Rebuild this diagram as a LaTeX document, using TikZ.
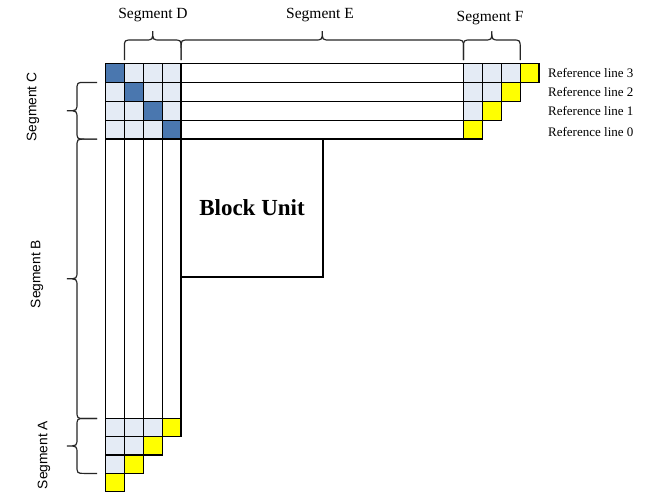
\documentclass[tikz,border=0pt]{standalone}
\usepackage{fontspec}
\setmainfont{Liberation Serif}
\newfontfamily\sidefont{Liberation Sans}
\definecolor{cellblue}{HTML}{4A77AF}
\definecolor{cellpale}{HTML}{E4EBF5}
\definecolor{cellyellow}{HTML}{FFFF00}
\tikzset{
  gridpen/.style={draw=black, line width=1.3pt},
  bracepen/.style={draw=black!85, line width=1.2pt},
  boxpen/.style={draw=black, line width=2.4pt},
  toplabel/.style={font=\fontsize{15.5}{17}\selectfont, inner sep=0pt},
  sidelabel/.style={font=\sidefont\fontsize{13.8}{15}\selectfont, rotate=90, inner sep=0pt},
  reflabel/.style={font=\fontsize{13}{14}\selectfont, anchor=west, inner sep=0pt},
}
% horizontal curly brace over [#1,#2], tip pointing up
\newcommand\bracetop[2]{%
  \pgfmathsetmacro\bm{(#1+#2)/2}%
  \draw[bracepen] (#1,60) -- (#1,48) .. controls (#1,40) .. (#1+8,40)
    -- (\bm-8,40) .. controls (\bm,40) .. (\bm,31)
    .. controls (\bm,40) .. (\bm+8,40) -- (#2-8,40)
    .. controls (#2,40) .. (#2,48) -- (#2,60);}
% vertical curly brace beside [#1,#2], tip pointing left
\newcommand\braceside[2]{%
  \pgfmathsetmacro\bm{(#1+#2)/2}%
  \draw[bracepen] (97,#1) -- (85,#1) .. controls (77,#1) .. (77,#1+8)
    -- (77,\bm-8) .. controls (77,\bm) .. (67,\bm)
    .. controls (77,\bm) .. (77,\bm+8) -- (77,#2-8)
    .. controls (77,#2) .. (85,#2) -- (97,#2);}
\begin{document}
\begin{tikzpicture}[x=1pt,y=-1pt]
\useasboundingbox (0,0) rectangle (649,499);
\fill[white] (0,0) rectangle (649,499);

% long columns running down the left side
\foreach \c in {0,...,4}
  \draw[gridpen] ({105.5+18.9*\c},139.1) -- ({105.5+18.9*\c},418.5);
% long rows running across the top
\foreach \r in {0,...,4}
  \draw[gridpen] (181.1,{63.5+18.9*\r}) -- (463.5,{63.5+18.9*\r});

% top-left block with the dark diagonal
\foreach \r in {0,...,3}
  \foreach \c in {0,...,3}{
    \ifnum\r=\c \def\cellcol{cellblue}\else\def\cellcol{cellpale}\fi
    \filldraw[gridpen, fill=\cellcol] ({105.5+18.9*\c},{63.5+18.9*\r}) rectangle +(18.9,18.9);
  }

% top-right staircase
\foreach \r in {0,...,3}{
  \pgfmathtruncatemacro\last{3-\r}
  \foreach \c in {0,...,\last}{
    \ifnum\c=\last \def\cellcol{cellyellow}\else\def\cellcol{cellpale}\fi
    \filldraw[gridpen, fill=\cellcol] ({463.5+18.9*\c},{63.5+18.9*\r}) rectangle +(18.9,18.9);
  }
}

% bottom-left staircase
\foreach \r in {0,...,3}{
  \pgfmathtruncatemacro\last{3-\r}
  \foreach \c in {0,...,\last}{
    \ifnum\c=\last \def\cellcol{cellyellow}\else\def\cellcol{cellpale}\fi
    \filldraw[gridpen, fill=\cellcol] ({105.5+18.9*\c},{418.5+18.3*\r}) rectangle +(18.9,18.3);
  }
}

% block unit
\draw[boxpen] (181.1,139.1) rectangle (323,277);
\node[font=\bfseries\fontsize{23}{25}\selectfont] (block) at (252,208) {Block Unit};

% braces along the top
\bracetop{124.4}{181.1}
\bracetop{181.1}{463.5}
\bracetop{463.5}{520.2}
\node[toplabel] (segD) at (153,15) {Segment D};
\node[toplabel] (segE) at (320,15) {Segment E};
\node[toplabel] (segF) at (490,18) {Segment F};

% braces along the left
\braceside{82.4}{139.1}
\braceside{139.1}{418.5}
\braceside{418.5}{473.4}
\node[sidelabel] (segC) at (33,107) {Segment C};
\node[sidelabel] (segB) at (37,274) {Segment B};
\node[sidelabel] (segA) at (44,455) {Segment A};

% reference line captions
\node[reflabel] (ref3) at (548,73) {Reference line 3};
\node[reflabel] (ref2) at (548,92) {Reference line 2};
\node[reflabel] (ref1) at (548,111) {Reference line 1};
\node[reflabel] (ref0) at (548,132) {Reference line 0};
\end{tikzpicture}
\end{document}
